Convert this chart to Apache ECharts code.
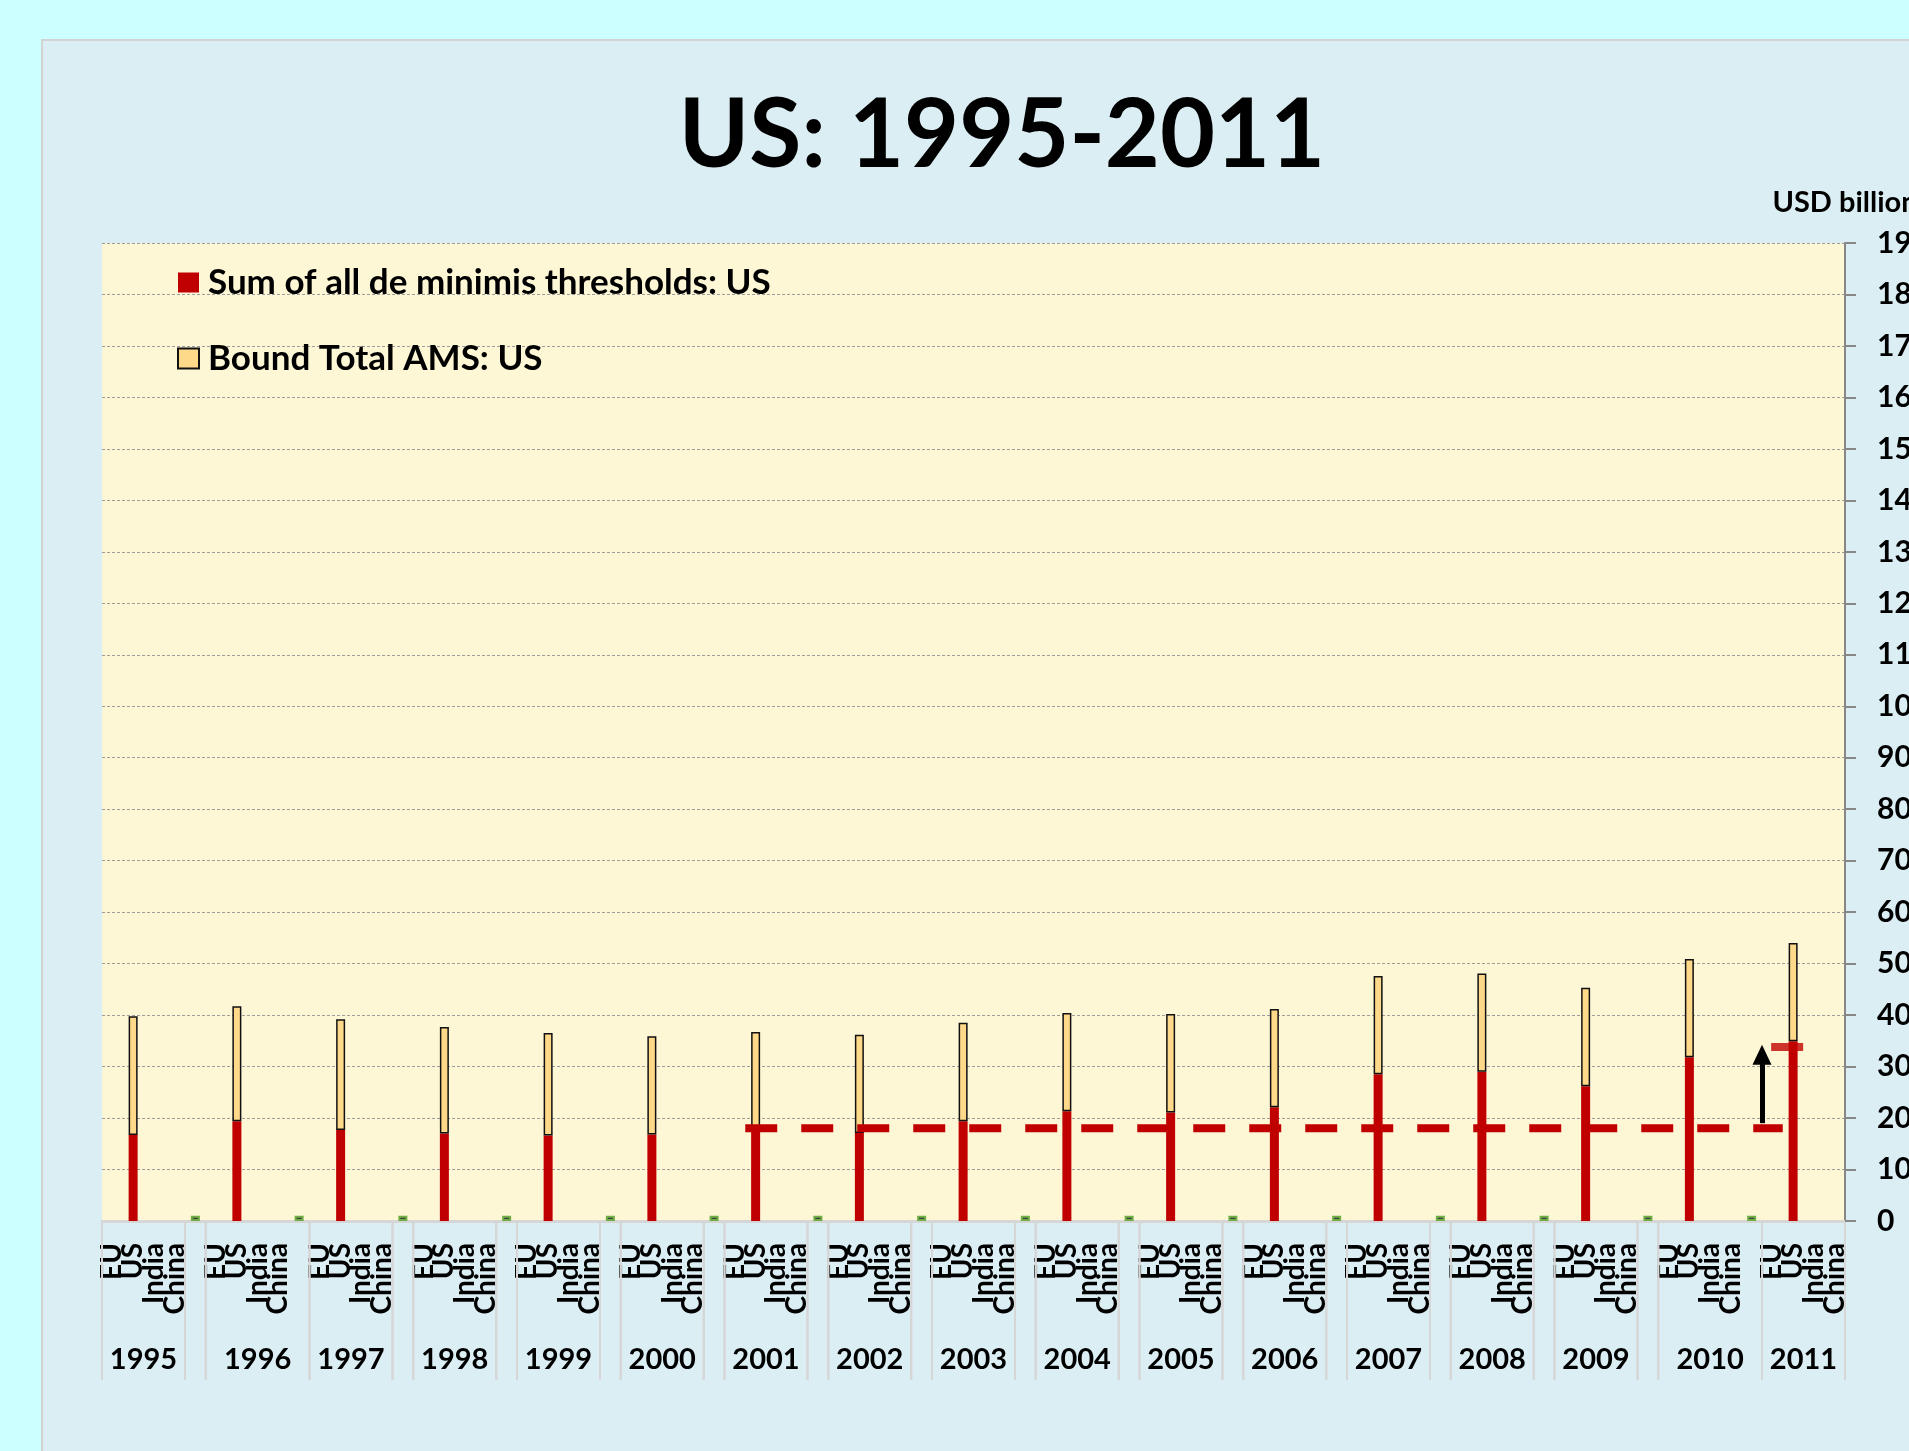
<!DOCTYPE html>
<html>
<head>
<meta charset="utf-8">
<script src="https://cdn.jsdelivr.net/npm/echarts@6/dist/echarts.min.js"></script>
<style>
html,body{margin:0;padding:0;background:#CCFFFF;}
#c{width:1909px;height:1451px;}
</style>
</head>
<body>
<div id="c"></div>
<script>
// ---------------- data ----------------
const years = ['1995','1996','1997','1998','1999','2000','2001','2002','2003','2004','2005','2006','2007','2008','2009','2010','2011'];
const subCategories = ['EU','US','India','China'];
// number of category slots covered by each year's label box (5 = includes the gap slot)
const yearGroupSlots = [4,5,4,4,4,4,4,4,4,4,4,4,4,4,4,5,4];
// Sum of all de minimis thresholds: US (USD billion)
const deMinimisUS = [16.7,19.4,17.7,17.0,16.6,16.8,17.6,17.1,19.4,21.3,21.1,22.1,28.5,29.0,26.2,31.8,34.9];
// Bound Total AMS: US (USD billion)
const boundAMSUS = [23.1,22.3,21.5,20.7,19.9,19.1,19.1,19.1,19.1,19.1,19.1,19.1,19.1,19.1,19.1,19.1,19.1];
// small marks in the gap slots
const gapMarks = [1.0,1.0,1.0,1.0,1.0,1.0,1.0,1.0,1.0,1.0,1.0,1.0,1.0,1.0,1.0,1.0];
const baselineValue = 18.0;       // dashed reference level 2001-2011
const baselineFromYear = '2001';
const baselineToYear = '2011';
const arrowFrom = 19.0;
const arrowTo = 32.3;             // arrow head centre (tip reaches ~34.2)
const cap2011 = 33.8;
const yMin = 0, yMax = 190, yStep = 10;

// ---------------- build ----------------
const categories = [];
years.forEach((y, i) => {
  subCategories.forEach(s => categories.push(y + ' ' + s));
  if (i < years.length - 1) categories.push(y + ' gap');
});
const N = categories.length;
const slot = (year, sub) => categories.indexOf(year + ' ' + sub);

const redData = categories.map(() => null);
const yellowData = categories.map(() => null);
const greenData = categories.map(() => null);
years.forEach((y, i) => {
  redData[slot(y, 'US')] = deMinimisUS[i];
  yellowData[slot(y, 'US')] = boundAMSUS[i];
  if (i < gapMarks.length) greenData[slot(y, 'gap')] = gapMarks[i];
});

const groups = [];
let idx = 0;
years.forEach((y, i) => {
  const n = yearGroupSlots[i];
  groups.push([idx, idx + n, y]);
  idx += n;
  if (n === 4 && i < years.length - 1) { groups.push([idx, idx + 1, '']); idx += 1; }
});

const FONT = 'Lato';
const chart = echarts.init(document.getElementById('c'), null, {renderer: 'canvas'});

const option = {
  animation: false,
  backgroundColor: '#CCFFFF',
  graphic: [{
    type: 'rect', z: -10, silent: true,
    shape: {x: 42, y: 40, width: 1900, height: 1440},
    style: {fill: '#DBEEF4', stroke: '#D3D3D3', lineWidth: 2}
  }],
  title: {
    text: 'US: 1995-2011',
    left: 997, top: 84, textAlign: 'center',
    textStyle: {fontFamily: FONT, fontWeight: 'bold', fontSize: 95, color: '#000'}
  },
  legend: {
    data: ['Sum of all de minimis thresholds: US', 'Bound Total AMS: US'],
    orient: 'vertical', left: 177, top: 265, itemGap: 41, padding: 0,
    itemWidth: 21, itemHeight: 20, icon: 'rect',
    textStyle: {fontFamily: FONT, fontWeight: 'bold', fontSize: 35, color: '#000', padding: [0,0,0,4]}
  },
  grid: {
    left: 102, right: 64, top: 243, bottom: 230,
    outerBoundsMode: 'none', containLabel: false,
    show: true, backgroundColor: '#FDF7D6', borderWidth: 0
  },
  xAxis: [{
    type: 'category', data: categories, boundaryGap: true,
    axisLine: {lineStyle: {color: '#D6D6D6', width: 3}},
    axisTick: {show: false},
    splitLine: {show: false},
    axisLabel: {
      interval: 0, rotate: 90, margin: 22,
      fontFamily: FONT, fontWeight: 'bold', fontSize: 28, color: '#000',
      formatter: v => { const s = v.split(' ')[1]; return s === 'gap' ? '' : s; }
    }
  }, {
    type: 'value', min: 0, max: N, show: false
  }],
  yAxis: {
    type: 'value', position: 'right', min: yMin, max: yMax, interval: yStep,
    name: 'USD billion', nameLocation: 'end', nameGap: 26,
    nameTextStyle: {fontFamily: FONT, fontWeight: 'bold', fontSize: 29, color: '#000', align: 'center'},
    axisLine: {show: true, onZero: false, lineStyle: {color: '#878787', width: 2}},
    axisTick: {show: true, length: 11, lineStyle: {color: '#878787', width: 2}},
    axisLabel: {margin: 32, fontFamily: FONT, fontWeight: 'bold', fontSize: 30, color: '#000'},
    splitLine: {show: true, lineStyle: {color: '#9C9C9C', width: 1, type: [3, 2]}}
  },
  series: [
    {
      name: 'Sum of all de minimis thresholds: US', type: 'bar', stack: 'us',
      data: redData, barWidth: 9, itemStyle: {color: '#C00000'}
    },
    {
      name: 'Bound Total AMS: US', type: 'bar', stack: 'us',
      data: yellowData, barWidth: 9,
      itemStyle: {color: '#FFD98A', borderColor: '#111', borderWidth: 1.5}
    },
    {
      name: 'gap', type: 'bar', stack: 'us', data: greenData, barWidth: 9,
      itemStyle: {color: '#404040', borderColor: '#6FAE45', borderWidth: 2}
    },
    {
      name: 'baseline', type: 'line', xAxisIndex: 1, z: 5,
      data: [[slot(baselineFromYear, 'US'), baselineValue], [slot(baselineToYear, 'US'), baselineValue]],
      showSymbol: false, symbol: 'none',
      lineStyle: {color: '#C00000', width: 8, type: [32, 24], cap: 'butt'},
      markLine: {
        silent: true, symbol: ['none', 'triangle'], symbolSize: [19, 20],
        label: {show: false},
        lineStyle: {color: '#000', width: 5, type: 'solid'},
        emphasis: {disabled: true},
        data: [[{coord: [slot(baselineToYear, 'EU'), arrowFrom]}, {coord: [slot(baselineToYear, 'EU'), arrowTo]}]]
      }
    },
    {
      name: 'cap', type: 'scatter', z: 5,
      data: [[slot('2011', 'US'), cap2011]],
      symbol: 'rect', symbolSize: [32, 8], symbolOffset: [-6, 0],
      itemStyle: {color: '#C00000'}
    },
    {
      name: 'yearGroups', type: 'custom', clip: false, silent: true,
      dimensions: ['start', 'end', 'y'], encode: {x: 'start', y: 'y'},
      data: groups.map(g => [g[0], g[1], 0]),
      renderItem: (params, api) => {
        const s = api.value(0), e = api.value(1);
        const w = api.size([1, 0])[0];
        const p0 = api.coord([s, 0]);
        const p1 = api.coord([e - 1, 0]);
        const x0 = p0[0] - w / 2, x1 = p1[0] + w / 2, y = p0[1];
        const label = groups[params.dataIndex][2];
        return {
          type: 'group',
          children: [
            {type: 'line', shape: {x1: x0, y1: y + 2, x2: x0, y2: y + 159}, style: {stroke: '#D6D6D6', lineWidth: 2}},
            {type: 'line', shape: {x1: x1, y1: y + 2, x2: x1, y2: y + 159}, style: {stroke: '#D6D6D6', lineWidth: 2}},
            {type: 'text', style: {text: label, x: (x0 + x1) / 2, y: y + 139, align: 'center', verticalAlign: 'middle',
              font: 'bold 29px ' + FONT, fill: '#000'}}
          ]
        };
      }
    }
  ]
};
chart.setOption(option);
</script>
</body>
</html>
